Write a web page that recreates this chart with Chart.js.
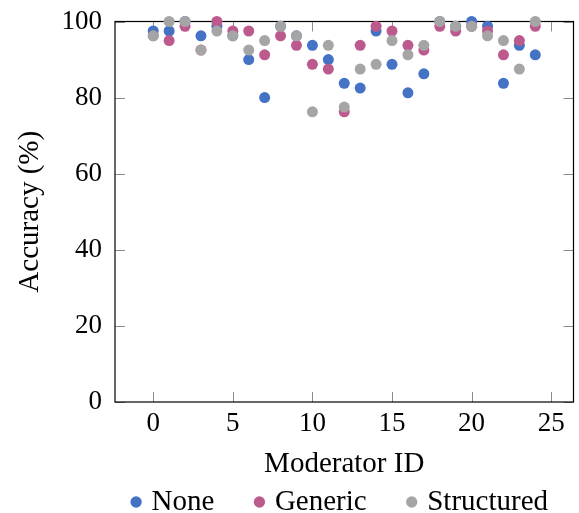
<!DOCTYPE html>
<html>
<head>
<meta charset="utf-8">
<script src="https://cdn.jsdelivr.net/npm/chart.js@4.4.1/dist/chart.umd.min.js"></script>
<style>
  html, body { margin: 0; padding: 0; background: #fff; }
  #wrap { width: 579px; height: 513px; }
</style>
</head>
<body>
<div id="wrap"><canvas id="chart"></canvas></div>
<script>
// datos
const moderatorIds = [0, 1, 2, 3, 4, 5, 6, 7, 8, 9, 10, 11, 12, 13, 14, 15, 16, 17, 18, 19, 20, 21, 22, 23, 24];
const noneAcc = [97.5, 97.5, 100, 96.25, 98.75, 96.25, 90, 80, 98.75, 96.25, 93.75, 90, 83.75, 82.5, 97.5, 88.75, 81.25, 86.25, 100, 98.75, 100, 98.75, 83.75, 93.75, 91.25];
const genericAcc = [96.25, 95, 98.75, 92.5, 100, 97.5, 97.5, 91.25, 96.25, 93.75, 88.75, 87.5, 76.25, 93.75, 98.75, 97.5, 93.75, 92.5, 98.75, 97.5, 98.75, 97.5, 91.25, 95, 98.75];
const structuredAcc = [96.25, 100, 100, 92.5, 97.5, 96.25, 92.5, 95, 98.75, 96.25, 76.25, 93.75, 77.5, 87.5, 88.75, 95, 91.25, 93.75, 100, 98.75, 98.75, 96.25, 95, 87.5, 100];
const xTicks = [0, 5, 10, 15, 20, 25];
const yTicks = [0, 20, 40, 60, 80, 100];

const serif = "'Liberation Serif', 'DejaVu Serif', serif";
const legendPad = 44;

function toPoints(vals) {
  return moderatorIds.map((id, i) => ({ x: id, y: vals[i] }));
}

// marco y marcas hacia adentro como pgfplots
const frame = {
  id: "frame",
  beforeDatasetsDraw(chart) {
    const { ctx, chartArea } = chart;
    const xs = chart.scales.x;
    const ys = chart.scales.y;
    const len = 10;
    ctx.save();
    ctx.strokeStyle = "#8c8c8c";
    ctx.lineWidth = 1;
    ctx.beginPath();
    xTicks.forEach((t) => {
      const px = Math.round(xs.getPixelForValue(t)) + 0.5;
      ctx.moveTo(px, chartArea.bottom);
      ctx.lineTo(px, chartArea.bottom - len);
      ctx.moveTo(px, chartArea.top);
      ctx.lineTo(px, chartArea.top + len);
    });
    yTicks.forEach((t) => {
      const py = Math.round(ys.getPixelForValue(t)) + 0.5;
      ctx.moveTo(chartArea.left, py);
      ctx.lineTo(chartArea.left + len, py);
      ctx.moveTo(chartArea.right, py);
      ctx.lineTo(chartArea.right - len, py);
    });
    ctx.stroke();
    ctx.strokeStyle = "#000";
    ctx.lineWidth = 1.2;
    ctx.strokeRect(chartArea.left, chartArea.top, chartArea.right - chartArea.left, chartArea.bottom - chartArea.top);
    ctx.restore();
  },
};

const ctx = document.getElementById("chart").getContext("2d");
const myChart = new Chart(ctx, {
  type: "scatter",
  data: {
    datasets: [
      {
        label: "None",
        data: toPoints(noneAcc),
        backgroundColor: "#4472c4",
        borderWidth: 0,
        pointRadius: 5.5,
        clip: false,
        order: 3,
      },
      {
        label: "Generic",
        data: toPoints(genericAcc),
        backgroundColor: "#bc5a8e",
        borderWidth: 0,
        pointRadius: 5.5,
        clip: false,
        order: 2,
      },
      {
        label: "Structured",
        data: toPoints(structuredAcc),
        backgroundColor: "#a5a5a5",
        borderWidth: 0,
        pointRadius: 5.5,
        clip: false,
        order: 1,
      },
    ],
  },
  options: {
    responsive: true,
    maintainAspectRatio: false,
    animation: false,
    layout: { padding: { top: 21.5, right: -13, left: 0, bottom: 0 } },
    plugins: {
      tooltip: { enabled: false },
      legend: {
        position: "bottom",
        align: "end",
        maxHeight: 69.5,
        labels: {
          usePointStyle: true,
          pointStyle: "circle",
          boxWidth: 2,
          boxHeight: 8,
          padding: legendPad,
          color: "#000",
          font: { family: serif, size: 29 },
          sort: (a, b) => a.datasetIndex - b.datasetIndex,
        },
      },
    },
    scales: {
      x: {
        type: "linear",
        min: -2.4,
        max: 26.4,
        afterBuildTicks: (s) => { s.ticks = xTicks.map((v) => ({ value: v })); },
        afterFit: (s) => {
          s.height = 41.5;
          s.paddingLeft = 0;
          s.paddingRight = 3;
        },
        grid: { display: false, drawTicks: false },
        border: { display: false },
        ticks: { color: "#000", padding: 6, font: { family: serif, size: 27 } },
        title: {
          display: true,
          text: "Moderator ID",
          color: "#000",
          padding: { top: 0, bottom: -38 },
          font: { family: serif, size: 29 },
        },
      },
      y: {
        min: 0,
        max: 100,
        afterBuildTicks: (s) => { s.ticks = yTicks.map((v) => ({ value: v })); },
        afterFit: (s) => {
          s.width = 115;
          s.paddingTop = 0;
          s.paddingBottom = 0;
        },
        grid: { display: false, drawTicks: false },
        border: { display: false },
        ticks: { color: "#000", padding: 13, font: { family: serif, size: 27 } },
        title: {
          display: true,
          text: "Accuracy (%)",
          color: "#000",
          padding: { top: 12.5, bottom: 0 },
          font: { family: serif, size: 29 },
        },
      },
    },
  },
  plugins: [frame],
});
</script>
</body>
</html>
